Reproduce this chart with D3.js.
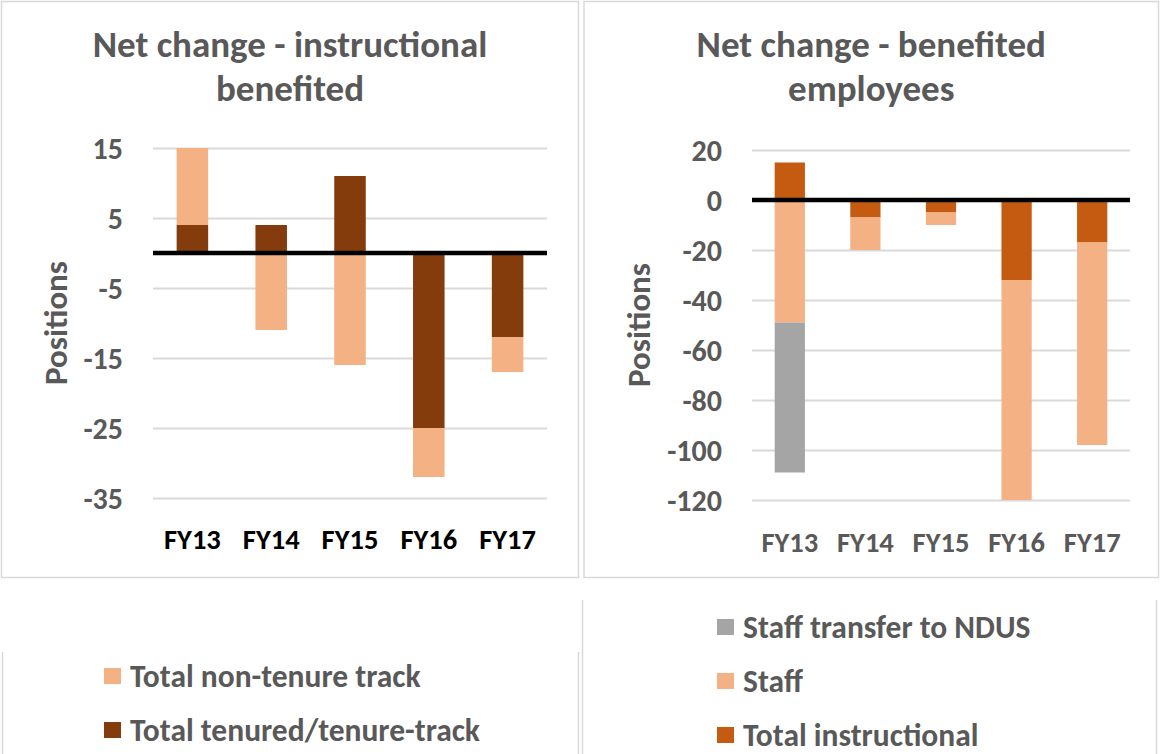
<!DOCTYPE html>
<html>
<head>
<meta charset="utf-8">
<title>Net change in positions</title>
<script src="https://cdnjs.cloudflare.com/ajax/libs/d3/7.8.5/d3.min.js"></script>
<style>
    body { margin: 0; background: #fff; }
    svg { font-family: Carlito, Calibri, Lato, sans-serif; font-weight: bold; }
</style>
</head>
<body>
<svg width="1160" height="754"></svg>
<script>
    var years = ["FY13", "FY14", "FY15", "FY16", "FY17"]

    // left chart - instructional benefited
    var tenured = [4, 4, 11, -25, -12]
    var nonTenure = [11, -11, -16, -7, -5]
    var leftTicks = [15, 5, -5, -15, -25, -35]

    // right chart - benefited employees
    var instructional = [15, -7, -5, -32, -17]
    var staff = [-49, -13, -5, -88, -81]
    var staffTransfer = [-60, 0, 0, 0, 0]
    var rightTicks = [20, 0, -20, -40, -60, -80, -100, -120]

    var grey = "#595959"
    var svg = d3.select("svg")

    function drawChart(o) {
        var rows = years.map((y, i) => {
            var r = { year: y }
            o.series.forEach(s => r[s.key] = s.values[i])
            return r
        })
        var stacked = d3.stack()
            .keys(o.series.map(s => s.key))
            .offset(d3.stackOffsetDiverging)(rows)
        var color = d3.scaleOrdinal()
            .domain(o.series.map(s => s.key))
            .range(o.series.map(s => s.color))

        var x = d3.scaleBand().domain(years).range(o.xRange)
            .paddingInner(0.6).paddingOuter(0.3)
        var y = d3.scaleLinear().domain(o.yDomain).range(o.yRange)

        // panel border
        svg.append("rect")
            .attr("x", o.panel[0]).attr("y", o.panel[1])
            .attr("width", o.panel[2]).attr("height", o.panel[3])
            .attr("fill", "none").attr("stroke", "#D9D9D9").attr("stroke-width", 1.5)

        // title
        var cx = o.panel[0] + o.panel[2] / 2
        svg.append("text")
            .attr("x", cx).attr("y", 57)
            .attr("text-anchor", "middle")
            .style("font-size", "37px").style("fill", grey)
            .selectAll("tspan").data(o.title).enter().append("tspan")
            .attr("x", cx).attr("dy", (d, i) => i ? 44 : 0)
            .text(d => d)

        // gridlines + tick labels
        var yAxis = svg.append("g")
            .attr("transform", `translate(${o.xRange[0]},0)`)
            .call(d3.axisLeft(y).tickValues(o.ticks).tickFormat(d => String(d))
                .tickSize(-(o.xRange[1] - o.xRange[0])).tickPadding(30))
            .attr("font-family", null).attr("font-size", null)
        yAxis.select(".domain").remove()
        yAxis.selectAll("line").attr("stroke", "#D9D9D9").attr("stroke-width", 2)
        yAxis.selectAll("text")
            .style("font-size", "30px").style("fill", grey)
            .attr("dy", "0.35em")

        // bars
        svg.append("g").selectAll("g")
            .data(stacked).enter().append("g")
            .attr("fill", d => color(d.key))
            .selectAll("rect").data(d => d).enter().append("rect")
            .attr("x", d => x(d.data.year))
            .attr("width", x.bandwidth())
            .attr("y", d => y(Math.max(d[0], d[1])))
            .attr("height", d => Math.abs(y(d[0]) - y(d[1])))

        // zero line
        svg.append("line")
            .attr("x1", o.xRange[0]).attr("x2", o.xRange[1])
            .attr("y1", y(0)).attr("y2", y(0))
            .attr("stroke", "#000").attr("stroke-width", 4.5)

        // category labels
        var xAxis = svg.append("g")
            .attr("transform", `translate(0,${o.labelY})`)
            .call(d3.axisBottom(x).tickSize(0).tickPadding(0))
            .attr("font-family", null).attr("font-size", null)
        xAxis.select(".domain").remove()
        xAxis.selectAll("text")
            .attr("dy", "0.35em")
            .style("font-size", "28.5px").style("fill", o.catColor)

        // axis title
        svg.append("text")
            .attr("transform", `translate(${o.axisTitleX},${(o.yRange[0] + o.yRange[1]) / 2}) rotate(-90)`)
            .attr("text-anchor", "middle").attr("dy", "0.35em")
            .style("font-size", "33px").style("fill", grey)
            .text("Positions")

        // legend
        var lg = svg.append("g")
        lg.selectAll("line").data(o.legendLines).enter().append("line")
            .attr("x1", d => d).attr("x2", d => d)
            .attr("y1", o.legendTop).attr("y2", 754)
            .attr("stroke", "#D9D9D9").attr("stroke-width", 1.5)
        var items = lg.selectAll("g").data(o.series.slice().reverse()).enter().append("g")
            .attr("transform", (d, i) => `translate(${o.legendX},${o.legendY + i * o.legendStep})`)
        items.append("rect")
            .attr("x", 0).attr("y", -8).attr("width", 17).attr("height", 16)
            .attr("fill", d => d.color)
        items.append("text")
            .attr("x", 26).attr("dy", "0.35em")
            .style("font-size", "31.5px").style("fill", grey)
            .text(d => d.label)
    }

    drawChart({
        panel: [1.5, 1.5, 577, 576],
        title: ["Net change - instructional", "benefited"],
        xRange: [153, 547],
        yDomain: [-35, 15],
        yRange: [498, 148],
        ticks: leftTicks,
        labelY: 539,
        catColor: "#000",
        axisTitleX: 55,
        series: [
            { key: "tenured", label: "Total tenured/tenure-track", values: tenured, color: "#843C0C" },
            { key: "nonTenure", label: "Total non-tenure track", values: nonTenure, color: "#F4B183" }
        ],
        legendLines: [2.5, 578.5],
        legendTop: 652,
        legendX: 104,
        legendY: 676,
        legendStep: 54
    })

    drawChart({
        panel: [584, 1.5, 574.5, 576],
        title: ["Net change - benefited", "employees"],
        xRange: [752, 1130],
        yDomain: [-120, 20],
        yRange: [500, 150],
        ticks: rightTicks,
        labelY: 542,
        catColor: grey,
        axisTitleX: 638,
        series: [
            { key: "instructional", label: "Total instructional", values: instructional, color: "#C55A11" },
            { key: "staff", label: "Staff", values: staff, color: "#F4B183" },
            { key: "transfer", label: "Staff transfer to NDUS", values: staffTransfer, color: "#A5A5A5" }
        ],
        legendLines: [582.5, 1156.5],
        legendTop: 600,
        legendX: 717,
        legendY: 627,
        legendStep: 54
    })
</script>
</body>
</html>
